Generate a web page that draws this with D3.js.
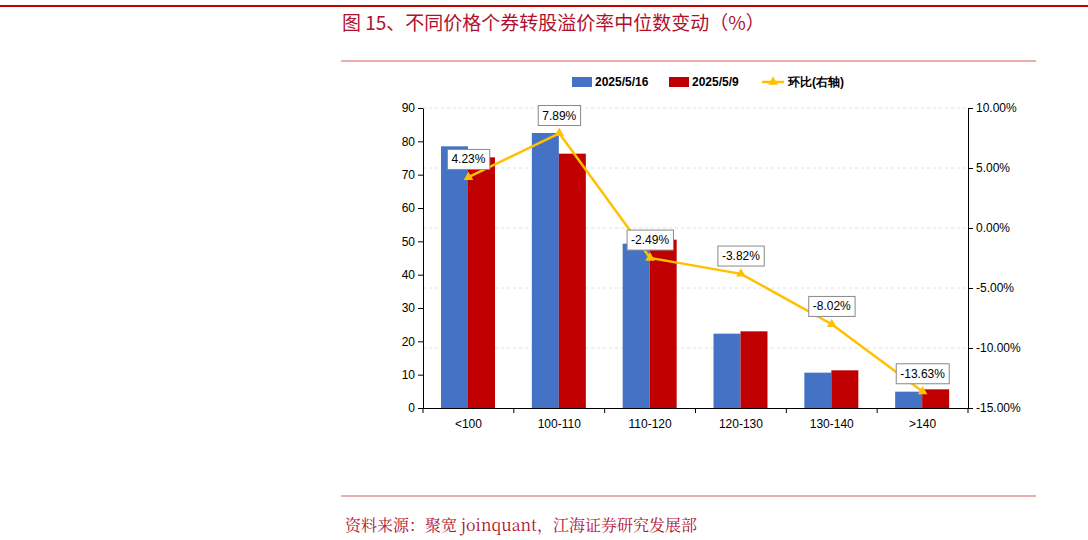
<html>
<head>
<script src="https://cdn.jsdelivr.net/npm/d3@7"></script>
<style>body{margin:0;background:#fff} text{font-family:"Liberation Sans",Arial,sans-serif}</style>
</head>
<body>
<svg width="1088" height="540"></svg>
<script>
const categories = ['<100', '100-110', '110-120', '120-130', '130-140', '>140'];
const s0516 = [78.5, 82.5, 49.3, 22.3, 10.6, 4.9];
const s0509 = [75.2, 76.3, 50.5, 23.0, 11.3, 5.6];
const change = [4.23, 7.89, -2.49, -3.82, -8.02, -13.63];
const leftTicks = [0, 10, 20, 30, 40, 50, 60, 70, 80, 90];
const rightTicks = [10, 5, 0, -5, -10, -15];

const svg = d3.select('svg');
const red = '#c00000';
const cjk = '"Noto Sans CJK SC",sans-serif';

// header / footer rules
svg.append('line').attr('x1', 0).attr('x2', 1088).attr('y1', 6).attr('y2', 6).attr('stroke', red).attr('stroke-width', 2);
svg.append('line').attr('x1', 341).attr('x2', 1036).attr('y1', 61).attr('y2', 61).attr('stroke', '#d06060');
svg.append('line').attr('x1', 341).attr('x2', 1036).attr('y1', 496).attr('y2', 496).attr('stroke', '#d06060');
svg.append('text').attr('x', 342).attr('y', 30).attr('fill', '#b01030').attr('font-size', 19)
  .style('font-family', cjk).text('图 15、不同价格个券转股溢价率中位数变动（%）');
svg.append('text').attr('x', 345).attr('y', 531).attr('fill', '#b01030').attr('font-size', 16)
  .style('font-family', '"Noto Serif CJK SC","Noto Sans CJK SC",serif').text('资料来源：聚宽 joinquant，江海证券研究发展部');

const x0 = d3.scaleBand().domain(categories).range([423, 968]);
const xs = d3.scaleBand().domain([0, 1]).range([0, 54]);
const y = d3.scaleLinear().domain([0, 90]).range([408, 108]);
const yr = d3.scaleLinear().domain([-15, 10]).range([408, 108]);

// grid
svg.append('g').selectAll('line').data(rightTicks.slice(0, -1)).join('line')
  .attr('x1', 423).attr('x2', 968).attr('y1', d => yr(d)).attr('y2', d => yr(d))
  .attr('stroke', '#e0e0e0').attr('stroke-dasharray', '3,3');

const ax = svg.append('g').attr('transform', 'translate(423,0)')
  .call(d3.axisLeft(y).tickValues(leftTicks).tickSize(5).tickSizeOuter(0));
const axr = svg.append('g').attr('transform', 'translate(968,0)')
  .call(d3.axisRight(yr).tickValues(rightTicks).tickSize(5).tickSizeOuter(0).tickFormat(d => d.toFixed(2) + '%'));
const axb = svg.append('g').attr('transform', 'translate(0,408)')
  .call(d3.axisBottom(x0).tickSize(0).tickSizeOuter(0));
axb.selectAll('text').attr('dy', '1.4em');
axb.selectAll('line.gr').data(d3.range(7)).join('line')
  .attr('x1', i => 423 + i * x0.step()).attr('x2', i => 423 + i * x0.step()).attr('y1', 0).attr('y2', 5).attr('stroke', '#000');
[ax, axr, axb].forEach(a => { a.selectAll('text').attr('font-size', 12).attr('fill', '#000'); a.selectAll('path,line').attr('stroke', '#000'); });

const colors = ['#4472c4', red];
[s0516, s0509].forEach((s, k) => {
  svg.append('g').selectAll('rect').data(s).join('rect')
    .attr('x', (d, i) => x0(categories[i]) + 18 + xs(k)).attr('width', xs.bandwidth())
    .attr('y', d => y(d)).attr('height', d => 408 - y(d)).attr('fill', colors[k]);
});

const cx = i => x0(categories[i]) + x0.bandwidth() / 2;
svg.append('path').datum(change)
  .attr('d', d3.line().x((d, i) => cx(i)).y(d => yr(d)))
  .attr('fill', 'none').attr('stroke', '#ffc000').attr('stroke-width', 2.5);
const tri = d3.symbol().type(d3.symbolTriangle).size(40);
svg.append('g').selectAll('path').data(change).join('path')
  .attr('d', tri).attr('transform', (d, i) => `translate(${cx(i)},${yr(d)})`).attr('fill', '#ffc000');

const lab = svg.append('g').selectAll('g').data(change).join('g')
  .attr('transform', (d, i) => `translate(${cx(i)},${yr(d) - 18})`);
lab.append('text').attr('text-anchor', 'middle').attr('dy', '0.35em').attr('font-size', 12)
  .text(d => d.toFixed(2) + '%');
lab.each(function () {
  const g = d3.select(this), b = g.select('text').node().getBBox();
  g.insert('rect', 'text').attr('x', b.x - 4).attr('y', b.y - 3).attr('width', b.width + 8).attr('height', b.height + 6)
    .attr('fill', '#fff').attr('stroke', '#888');
});

// legend
const lg = svg.append('g').attr('transform', 'translate(572,82)').style('font-family', cjk).attr('font-size', 12).attr('font-weight', 'bold');
lg.append('rect').attr('x', 0).attr('y', -5).attr('width', 20).attr('height', 10).attr('fill', colors[0]);
lg.append('text').attr('x', 23).attr('y', 4).text('2025/5/16');
lg.append('rect').attr('x', 97).attr('y', -5).attr('width', 20).attr('height', 10).attr('fill', colors[1]);
lg.append('text').attr('x', 120).attr('y', 4).text('2025/5/9');
lg.append('line').attr('x1', 190).attr('x2', 212).attr('y1', 0).attr('y2', 0).attr('stroke', '#ffc000').attr('stroke-width', 2.5);
lg.append('path').attr('d', tri).attr('transform', 'translate(201,0)').attr('fill', '#ffc000');
lg.append('text').attr('x', 216).attr('y', 4).text('环比(右轴)');
</script>
</body>
</html>
